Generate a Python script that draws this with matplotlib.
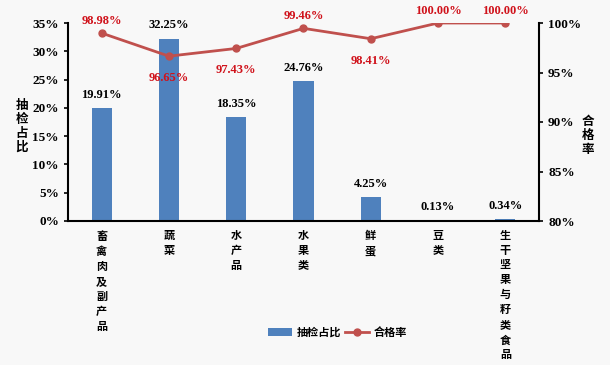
import matplotlib.pyplot as plt
from matplotlib.ticker import PercentFormatter, MultipleLocator

plt.rcParams['font.family'] = ['Liberation Serif', 'Noto Sans CJK SC', 'DejaVu Sans']
plt.rcParams['font.weight'] = 'bold'

categories = ['畜禽肉及副产品', '蔬菜', '水产品', '水果类', '鲜蛋', '豆类', '生干坚果与籽类食品']
share = [19.91, 32.25, 18.35, 24.76, 4.25, 0.13, 0.34]
pass_rate = [98.98, 96.65, 97.43, 99.46, 98.41, 100.00, 100.00]
label_below = [False, True, True, False, True, False, False]

bar_color = '#4f81bd'
line_color = '#c0504d'
red_text = '#d0121b'
bg = '#f8f8f8'

fig = plt.figure(figsize=(6.1, 3.65), dpi=100, facecolor=bg)
# plot area: x 68..539 px, y 23..221 px
ax = fig.add_axes([68 / 610, 1 - 221 / 365, 471 / 610, 198 / 365])
ax.set_facecolor(bg)
x = list(range(len(categories)))

ax.bar(x, share, width=0.3, color=bar_color, label='抽检占比', zorder=2)
for xi, v in zip(x, share):
    ty = min(v + 1.3, 33.7)
    ax.text(xi, ty, f'{v:.2f}%', ha='center', va='bottom', fontsize=9,
            fontweight='bold', color='black')

ax.set_xlim(-0.5, len(categories) - 0.5)
ax.set_ylim(0, 35)
ax.yaxis.set_major_locator(MultipleLocator(5))
ax.yaxis.set_major_formatter(PercentFormatter(decimals=0))
ax.set_xticks(x)
ax.set_xticklabels(['\n'.join(c) for c in categories], va='top', fontsize=8,
                   fontweight='bold', linespacing=1.6)
ax.tick_params(axis='x', length=0, pad=7)
ax.tick_params(axis='y', direction='out', length=3, width=1.2, labelsize=9.5)
for s in ['top', 'right']:
    ax.spines[s].set_visible(False)
for s in ['left', 'bottom']:
    ax.spines[s].set_linewidth(1.5)

ax2 = ax.twinx()
ln, = ax2.plot(x, pass_rate, color=line_color, lw=2, marker='o', ms=5, label='合格率', zorder=3)
ax2.set_ylim(80, 100)
ax2.yaxis.set_major_locator(MultipleLocator(5))
ax2.yaxis.set_major_formatter(PercentFormatter(decimals=0))
ax2.tick_params(axis='y', direction='out', length=3, width=1.2, labelsize=9.5)
for s in ['top', 'left', 'bottom']:
    ax2.spines[s].set_visible(False)
ax2.spines['right'].set_linewidth(1.5)
for xi, v, below in zip(x, pass_rate, label_below):
    if below:
        ax2.text(xi, v - 1.6, f'{v:.2f}%', ha='center', va='top', fontsize=9,
                 fontweight='bold', color=red_text)
    else:
        ax2.text(xi, v + 0.6, f'{v:.2f}%', ha='center', va='bottom', fontsize=9,
                 fontweight='bold', color=red_text)

fig.text(0.036, 0.652, '\n'.join('抽检占比'), ha='center', va='center', fontsize=9,
         fontweight='bold', linespacing=1.2)
fig.text(0.964, 0.627, '\n'.join('合格率'), ha='center', va='center', fontsize=9,
         fontweight='bold', linespacing=1.2)

handles = [ax.containers[0], ln]
fig.legend(handles, ['抽检占比', '合格率'], loc='center', bbox_to_anchor=(0.553, 0.09),
           ncol=2, frameon=False, handlelength=2.2, columnspacing=0.3,
           handletextpad=0.4, prop={'weight': 'bold', 'size': 8})

fig.savefig('out.png', dpi=100, facecolor=bg)
